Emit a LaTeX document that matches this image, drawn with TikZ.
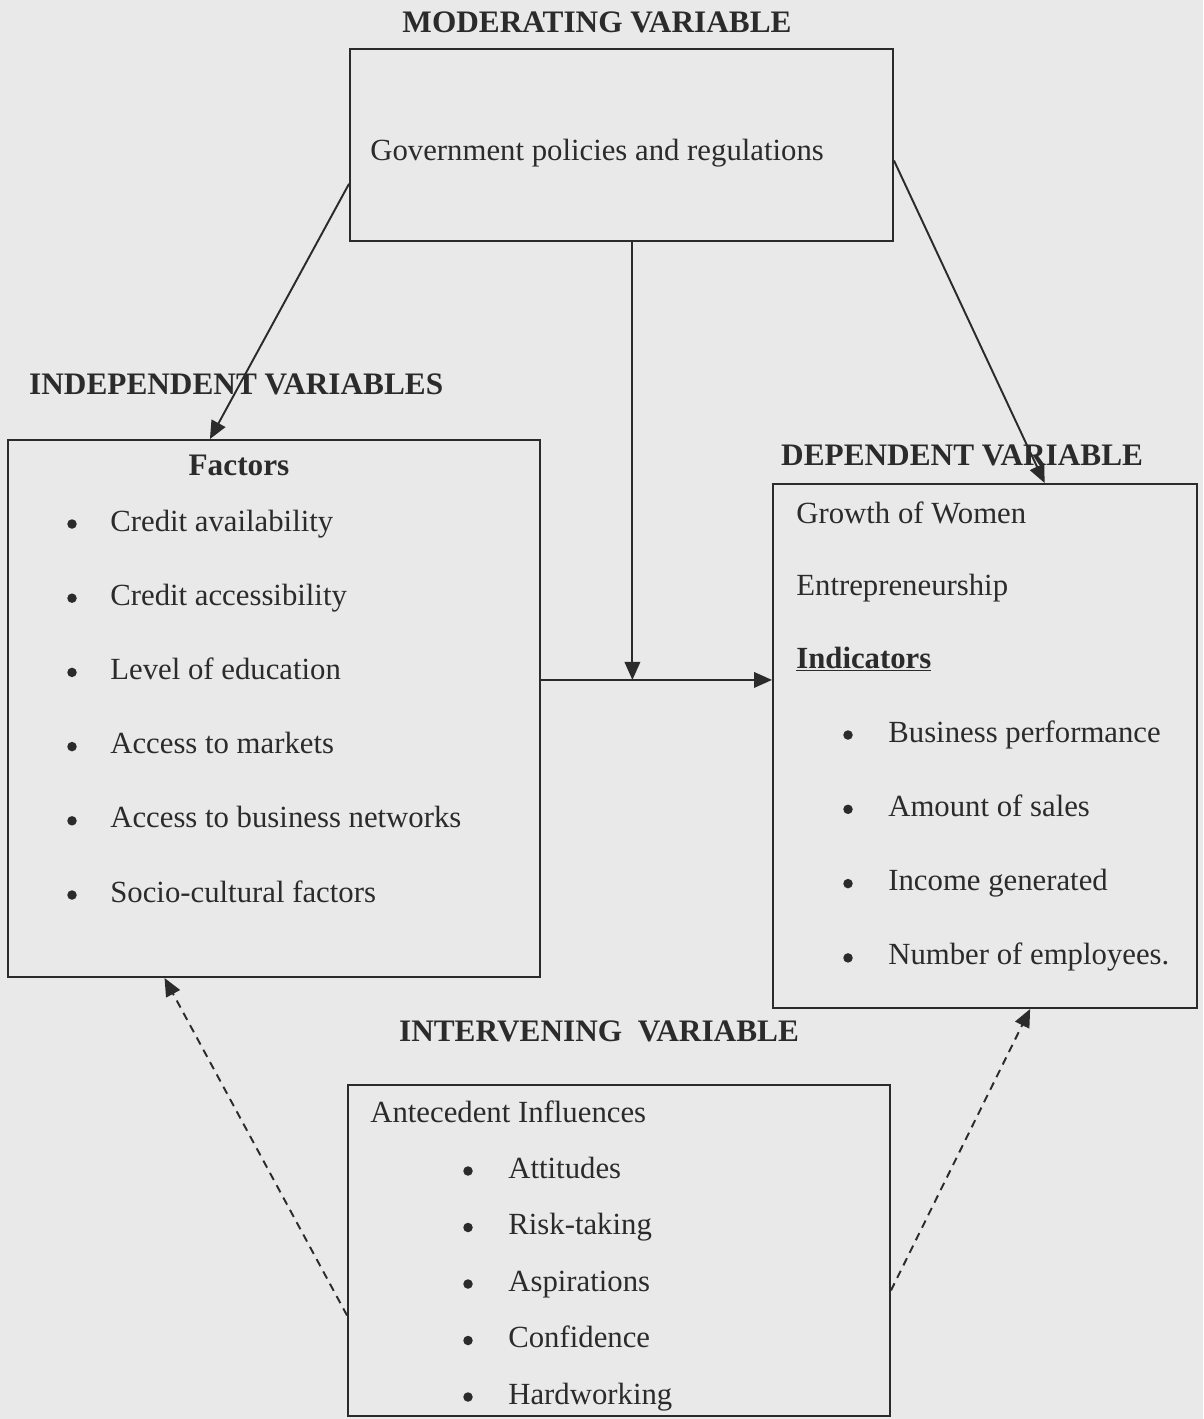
\documentclass[tikz,border=0pt]{standalone}
\usepackage{fontspec}
\setmainfont{Liberation Serif}
\usetikzlibrary{arrows.meta, positioning, calc}
\definecolor{pagegray}{HTML}{E9E9E9}
\definecolor{inkgray}{HTML}{2B2B2B}
\tikzset{
  varbox/.style={draw=inkgray, line width=1.1pt, inner sep=0pt},
  heading/.style={text=inkgray, font=\fontsize{17.8}{20}\selectfont\bfseries, text height=12pt, text depth=0.6pt},
  item/.style={text=inkgray, font=\fontsize{17.5}{20}\selectfont, anchor=west, inner sep=0pt,
    text height=12pt, text depth=0.6pt},
  bul/.style={circle, fill=inkgray, inner sep=0pt, minimum size=0.19cm, yshift=-0.06cm},
  link/.style={draw=inkgray, line width=1.1pt, -{Triangle[length=3.6mm, width=3.1mm]}},
  linkdash/.style={link, dash pattern=on 1.6mm off 1.2mm}
}

\begin{document}
\begin{tikzpicture}
  \fill[pagegray] (0,0) rectangle (24.06,-28.38);
  \useasboundingbox (0,0) rectangle (24.06,-28.38);

  % Moderating variable
  \node[heading] (modtitle) at (11.94,-0.44) {MODERATING VARIABLE};
  \node[varbox, minimum width=10.86cm, minimum height=3.84cm] (modbox) at (12.43,-2.90) {};
  \node[item] (modtext) at (7.4,-3.0) {Government policies and regulations};

  % Independent variables
  \node[heading, anchor=west] (indtitle) at (0.46,-7.68) {INDEPENDENT VARIABLES};
  \node[varbox, minimum width=10.64cm, minimum height=10.74cm] (indbox) at (5.48,-14.17) {};
  \node[heading] (factors) at (4.78,-9.3) {Factors};
  \foreach \txt [count=\i] in {Credit availability, Credit accessibility, Level of education,
      Access to markets, Access to business networks, Socio-cultural factors} {
    \node[bul] (indb\i) at (1.44,{-10.42-1.484*(\i-1)}) {};
    \node[item] (ind\i) at (2.2,{-10.42-1.484*(\i-1)}) {\txt};
  }

  % Dependent variable
  \node[heading, anchor=west] (deptitle) at (15.5,-9.1) {DEPENDENT VARIABLE};
  \node[varbox, minimum width=8.48cm, minimum height=10.48cm] (depbox) at (19.7,-14.92) {};
  \node[item] (growth) at (15.92,-10.26) {Growth of Women};
  \node[item] (entre) at (15.92,-11.7) {Entrepreneurship};
  \node[item, font=\fontsize{17.5}{20}\selectfont\bfseries] (indic) at (15.92,-13.16) {\underline{Indicators}};
  \foreach \txt [count=\i] in {Business performance, Amount of sales, Income generated,
      Number of employees.} {
    \node[bul] (depb\i) at (16.96,{-14.64-1.486*(\i-1)}) {};
    \node[item] (dep\i) at (17.76,{-14.64-1.486*(\i-1)}) {\txt};
  }

  % Intervening variable
  \node[heading] (inttitle) at (11.98,-20.62) {INTERVENING\ \ VARIABLE};
  \node[varbox, minimum width=10.84cm, minimum height=6.62cm] (intbox) at (12.38,-25.01) {};
  \node[item] (antec) at (7.4,-22.24) {Antecedent Influences};
  \foreach \txt [count=\i] in {Attitudes, Risk-taking, Aspirations, Confidence, Hardworking} {
    \node[bul] (intb\i) at (9.36,{-23.36-1.13*(\i-1)}) {};
    \node[item] (int\i) at (10.16,{-23.36-1.13*(\i-1)}) {\txt};
  }

  % Links
  \coordinate (hstart) at ($(indbox.north east)!0.447!(indbox.south east)$);
  \coordinate (vtop) at ($(modbox.south west)!0.52!(modbox.south east)$);
  \draw[link] ($(modbox.north west)!0.70!(modbox.south west)$) -- ($(indbox.north west)!0.38!(indbox.north east)$);
  \draw[link] ($(modbox.north east)!0.58!(modbox.south east)$) -- ($(depbox.north west)!0.64!(depbox.north east)$);
  \draw[link] (vtop) -- (vtop |- hstart);
  \draw[link] (hstart) -- (hstart -| depbox.west);
  \draw[linkdash] ($(intbox.north west)!0.695!(intbox.south west)$) -- ($(indbox.south west)!0.295!(indbox.south east)$);
  \draw[linkdash] ($(intbox.north east)!0.62!(intbox.south east)$) -- ($(depbox.south west)!0.606!(depbox.south east)$);
\end{tikzpicture}
\end{document}
